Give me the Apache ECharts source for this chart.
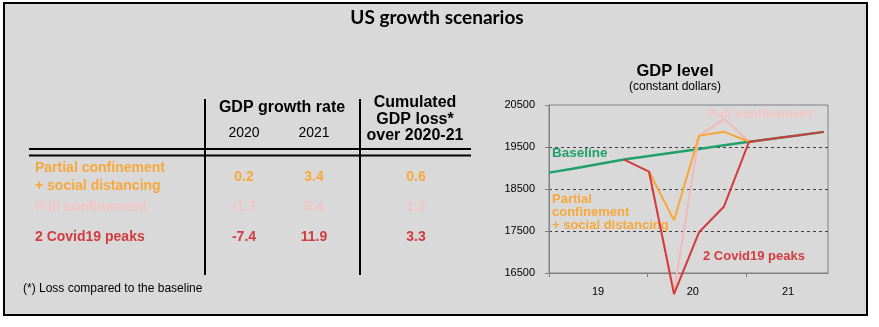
<!DOCTYPE html>
<html>
<head>
<meta charset="utf-8">
<script src="https://cdn.jsdelivr.net/npm/echarts@6/dist/echarts.min.js"></script>
<style>
html,body{margin:0;padding:0;background:#fff;}
#chart{width:879px;height:327px;}
</style>
</head>
<body>
<div id="chart"></div>
<script>
// ---- Data ----
const quarterIndex = [0,1,2,3,4,5,6,7,8,9,10,11]; // 2019Q1 .. 2021Q4
const baseline    = [18890,18990,19095,19200,19285,19370,19455,19540,19625,19700,19780,19860];
const fullConf    = [null,null,null,null,18915,16050,19766,20170,19630,null,null,null];
const partialConf = [null,null,null,null,18915,17754,19766,19861,19630,null,null,null];
const twoPeaks    = [null,null,null,19200,18915,16000,17470,18085,19620,19700,19780,19860];
const yearTickPos   = [0, 3.92, 7.88];
const yearLabelPos  = [1.96, 5.75, 9.56];
const yearLabels    = ['19','20','21'];

const scenarioNames = ['Partial confinement\n+ social distancing','Full confinement','2 Covid19 peaks'];
const growth2020 = ['0.2','-1.7','-7.4'];
const growth2021 = ['3.4','5.4','11.9'];
const cumLoss    = ['0.6','1.3','3.3'];

// ---- Styles ----
const C_GREEN='#21a06c', C_ORANGE='#f8a635', C_PINK='#f4b8b8', C_RED='#d23b3c';
const T_ORANGE='#f7a83c', T_PINK='#f4c4c4', T_RED='#d23c3f';
const FONT='"Liberation Sans", Arial, sans-serif';

function pairs(arr){ const out=[]; arr.forEach((v,i)=>{ if(v!==null) out.push([quarterIndex[i],v]); }); return out; }

const rowColors=[T_ORANGE,T_PINK,T_RED];
const rowY=[177,207,237];
const g=[];
g.push({type:'rect',shape:{x:4,y:3,width:863,height:312},style:{fill:'#d9d9d9',stroke:'#000',lineWidth:2},z:-10,silent:true});
g.push({type:'line',shape:{x1:205,y1:99,x2:205,y2:275},style:{stroke:'#000',lineWidth:2}});
g.push({type:'line',shape:{x1:360,y1:99,x2:360,y2:275},style:{stroke:'#000',lineWidth:2}});
g.push({type:'line',shape:{x1:29,y1:149,x2:471,y2:149},style:{stroke:'#000',lineWidth:2}});
g.push({type:'line',shape:{x1:29,y1:155.5,x2:471,y2:155.5},style:{stroke:'#000',lineWidth:2}});
function txt(x,y,t,opt){
  return {type:'text',x:x,y:y,style:Object.assign({text:t,font:'bold 14px '+FONT,fill:'#000',align:'center',verticalAlign:'middle'},opt||{})};
}
g.push(txt(437,18,'US growth scenarios',{font:'bold 19px Lato, "Liberation Sans", sans-serif'}));
g.push(txt(282,108,'GDP growth rate',{font:'bold 16px '+FONT}));
g.push(txt(244,133,'2020',{font:'14px '+FONT}));
g.push(txt(314,133,'2021',{font:'14px '+FONT}));
g.push(txt(415,103,'Cumulated',{font:'bold 16px '+FONT}));
g.push(txt(415,119.5,'GDP loss*',{font:'bold 16px '+FONT}));
g.push(txt(415,136,'over 2020-21',{font:'bold 16px '+FONT}));
scenarioNames.forEach((n,i)=>{
  const lines=n.split('\n');
  const y0 = lines.length===2 ? rowY[i]-9 : rowY[i];
  lines.forEach((l,j)=>g.push(txt(35,y0+j*18,l,{fill:rowColors[i],align:'left'})));
  g.push(txt(244,rowY[i],growth2020[i],{fill:rowColors[i]}));
  g.push(txt(314,rowY[i],growth2021[i],{fill:rowColors[i]}));
  g.push(txt(416,rowY[i],cumLoss[i],{fill:rowColors[i]}));
});
g.push(txt(23,289,'(*) Loss compared to the baseline',{font:'12px '+FONT,align:'left'}));
g.push(txt(675,71,'GDP level',{font:'bold 16.5px '+FONT}));
g.push(txt(675,87,'(constant dollars)',{font:'12px '+FONT}));
g.push(txt(552,153,'Baseline',{fill:C_GREEN,align:'left',font:'bold 13.5px '+FONT}));
g.push(txt(708,114,'Full confinement',{fill:T_PINK,align:'left',font:'bold 13px '+FONT}));
g.push(txt(552,199,'Partial',{fill:T_ORANGE,align:'left',font:'bold 13px '+FONT}));
g.push(txt(552,212,'confinement',{fill:T_ORANGE,align:'left',font:'bold 13px '+FONT}));
g.push(txt(552,225,'+ social distancing',{fill:T_ORANGE,align:'left',font:'bold 13px '+FONT}));
g.push(txt(703,256,'2 Covid19 peaks',{fill:T_RED,align:'left',font:'bold 13px '+FONT}));

const chart = echarts.init(document.getElementById('chart'));
chart.setOption({
  animation:false,
  backgroundColor:'#fff',
  graphic:{elements:g},
  grid:{left:549,right:51,top:105,bottom:54,show:true,borderColor:'#808080',borderWidth:1,backgroundColor:'transparent'},
  xAxis:{
    type:'value',min:0,max:11.16,
    axisLine:{lineStyle:{color:'#808080',width:1}},
    axisTick:{show:true,customValues:yearTickPos,length:4,inside:false,lineStyle:{color:'#808080'}},
    axisLabel:{customValues:yearLabelPos,formatter:function(v){const k=yearLabelPos.indexOf(v);return k>=0?yearLabels[k]:'';},fontSize:11,color:'#000',fontFamily:FONT,margin:13},
    splitLine:{show:false}
  },
  yAxis:{
    type:'value',min:16500,max:20500,interval:1000,
    axisLine:{show:true,lineStyle:{color:'#808080',width:1}},
    axisTick:{show:true,length:4,lineStyle:{color:'#808080'}},
    axisLabel:{fontSize:11,color:'#000',fontFamily:FONT,margin:14,formatter:function(v){return String(v);}},
    splitLine:{show:true,showMinLine:false,showMaxLine:false,lineStyle:{color:'#404040',type:[3,3],width:1}}
  },
  series:[
    {type:'line',data:pairs(baseline),symbol:'none',lineStyle:{color:C_GREEN,width:2.5},clip:false,z:2},
    {type:'line',data:pairs(fullConf),symbol:'none',lineStyle:{color:C_PINK,width:2},clip:false,z:3},
    {type:'line',data:pairs(partialConf),symbol:'none',lineStyle:{color:C_ORANGE,width:2},clip:false,z:4},
    {type:'line',data:pairs(twoPeaks),symbol:'none',lineStyle:{color:C_RED,width:2},clip:false,z:5}
  ]
});
</script>
</body>
</html>
